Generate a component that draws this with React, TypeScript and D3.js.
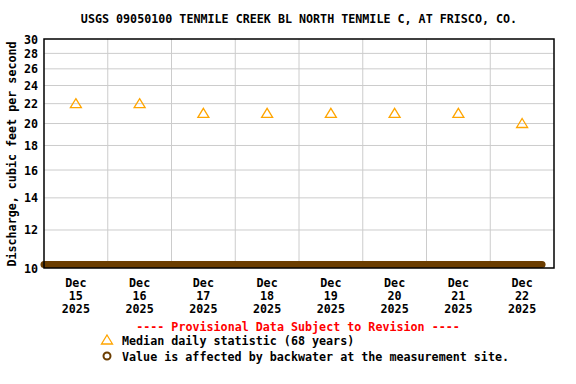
import React from "react";
import * as d3 from "d3";

// chart text
const title = "USGS 09050100 TENMILE CREEK BL NORTH TENMILE C, AT FRISCO, CO.";
const yLabel = "Discharge, cubic feet per second";
const provisional = "---- Provisional Data Subject to Revision ----";
const legendMedian = "Median daily statistic (68 years)";
const legendBackwater = "Value is affected by backwater at the measurement site.";

// y ticks (log axis)
const yTicks = [10, 12, 14, 16, 18, 20, 22, 24, 26, 28, 30];

// median daily statistic, one per day (plotted at noon)
const medianDays = ["2025-12-15", "2025-12-16", "2025-12-17", "2025-12-18", "2025-12-19", "2025-12-20", "2025-12-21", "2025-12-22"];
const medianValues = [22, 22, 21, 21, 21, 21, 21, 20];

// observed discharge (backwater affected), sits along the bottom
const obsTimes = ["2025-12-15T00:00", "2025-12-16T00:00", "2025-12-17T00:00", "2025-12-18T00:00", "2025-12-19T00:00", "2025-12-20T00:00", "2025-12-21T00:00", "2025-12-22T00:00", "2025-12-22T19:30"];
const obsValues = [10.17, 10.17, 10.17, 10.17, 10.17, 10.17, 10.17, 10.17, 10.17];

const W = 576;
const H = 384;
const margin = { left: 44, right: 22, top: 39, bottom: 116 };
const FONT = "'DejaVu Sans Mono', 'Liberation Mono', monospace";
const FS = 11.7;
const BROWN = "#6b3d00";
const ORANGE = "#ffa500";

const parse = d3.timeParse("%Y-%m-%dT%H:%M");
const parseDay = d3.timeParse("%Y-%m-%d");

export default function App() {
  const x = d3
    .scaleTime()
    .domain([parseDay("2025-12-15")!, parseDay("2025-12-23")!])
    .range([margin.left, W - margin.right]);
  const y = d3.scaleLog().domain([10, 30]).range([H - margin.bottom, margin.top]);

  const days = d3.timeDay.range(parseDay("2025-12-15")!, parseDay("2025-12-23")!);
  const obs = obsTimes.map((t, i) => ({ t: parse(t)!, v: obsValues[i] }));
  const line = d3
    .line<{ t: Date; v: number }>()
    .x((d) => x(d.t))
    .y((d) => y(d.v));

  const tri = (cx: number, cy: number) =>
    `M${cx},${cy - 5} L${cx + 5.5},${cy + 4} L${cx - 5.5},${cy + 4} Z`;

  const fmtMon = d3.timeFormat("%b");
  const fmtDay = d3.timeFormat("%d");
  const fmtYear = d3.timeFormat("%Y");

  return (
    <svg width={W} height={H} style={{ position: "absolute", left: 0, top: 0, background: "#fff" }} fontFamily={FONT} fontWeight="bold">
      <text x={299} y={23} textAnchor="middle" fontSize={FS}>
        {title}
      </text>

      {/* grid */}
      {yTicks.slice(1, -1).map((t) => (
        <line key={t} x1={margin.left} x2={W - margin.right} y1={y(t)} y2={y(t)} stroke="#cccccc" />
      ))}
      {days.slice(1).map((d) => (
        <line key={+d} x1={x(d)} x2={x(d)} y1={margin.top} y2={H - margin.bottom} stroke="#cccccc" />
      ))}

      {/* observed */}
      <path d={line(obs) ?? ""} fill="none" stroke={BROWN} strokeWidth={7} strokeLinecap="round" />

      {/* median triangles */}
      {medianDays.map((d, i) => {
        const t = d3.timeHour.offset(parseDay(d)!, 12);
        return <path key={d} d={tri(x(t), y(medianValues[i]))} fill="none" stroke={ORANGE} strokeWidth={1.3} />;
      })}

      {/* frame */}
      <rect x={margin.left} y={margin.top} width={W - margin.left - margin.right} height={H - margin.top - margin.bottom} fill="none" stroke="#000" strokeWidth={1.5} />

      {/* y ticks */}
      {yTicks.map((t) => (
        <text key={t} x={38} y={y(t) + 4.5} textAnchor="end" fontSize={FS}>
          {t}
        </text>
      ))}
      <text transform={`translate(16,154) rotate(-90)`} textAnchor="middle" fontSize={FS}>
        {yLabel}
      </text>

      {/* x ticks */}
      {days.map((d) => {
        const cx = x(d3.timeHour.offset(d, 12));
        return (
          <text key={+d} x={cx} textAnchor="middle" fontSize={FS}>
            <tspan x={cx} y={287}>{fmtMon(d)}</tspan>
            <tspan x={cx} y={300}>{fmtDay(d)}</tspan>
            <tspan x={cx} y={313}>{fmtYear(d)}</tspan>
          </text>
        );
      })}

      {/* legend */}
      <text x={298} y={331} textAnchor="middle" fontSize={FS} fill="#ff0000">
        {provisional}
      </text>
      <path d={tri(107, 340)} fill="none" stroke={ORANGE} strokeWidth={1.3} />
      <text x={122} y={345} fontSize={FS}>
        {legendMedian}
      </text>
      <circle cx={107} cy={356} r={3.5} fill="none" stroke={BROWN} strokeWidth={2} />
      <text x={122} y={361} fontSize={FS}>
        {legendBackwater}
      </text>
    </svg>
  );
}
